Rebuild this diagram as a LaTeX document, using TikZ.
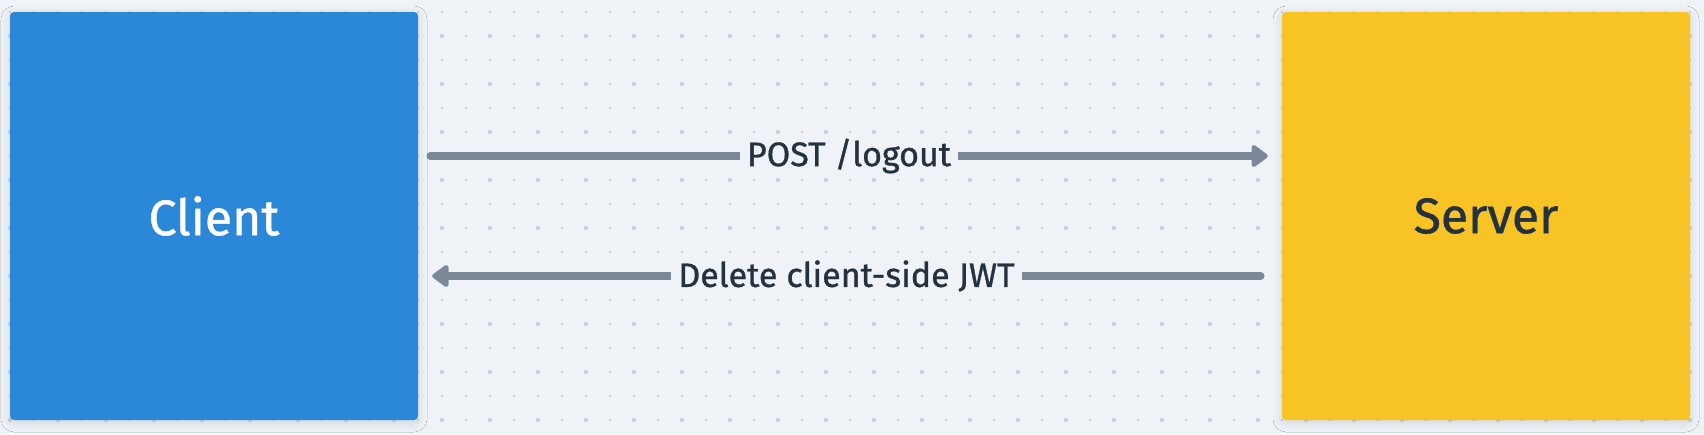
\documentclass[tikz,border=0pt]{standalone}
\usepackage{fontspec}
\setmainfont{Fira Sans}
\newfontfamily\diagfont{Fira Sans}[FakeBold=0.9]
\usetikzlibrary{arrows.meta}
\usetikzlibrary{shadows.blur}

\definecolor{canvas}{HTML}{EFF3F7}
\definecolor{griddot}{HTML}{C9D1DE}
\definecolor{clientblue}{HTML}{2B88D8}
\definecolor{serveryellow}{HTML}{F7C325}
\definecolor{flowgray}{HTML}{7A8898}
\definecolor{inkdark}{HTML}{24323F}

\begin{document}
\begin{tikzpicture}[x=1pt, y=-1pt,
    party/.style={rounded corners=4pt, minimum width=408pt, minimum height=408pt,
      font=\diagfont\fontsize{50}{60}\selectfont,
      blur shadow={shadow xshift=0pt, shadow yshift=-3pt, shadow blur radius=9pt, shadow opacity=12}},
    flow/.style={draw=flowgray, line width=7.5pt, line cap=round,
      -{Triangle[length=18pt, width=25pt, round]}},
    msg/.style={fill=canvas, text=inkdark, inner xsep=7pt, inner ysep=2pt,
      font=\diagfont\fontsize{34}{40}\selectfont}]
  \useasboundingbox (0,0) rectangle (1704,434);
  \fill[canvas] (0,0) rectangle (1704,434);
  % dotted canvas
  \foreach \i in {0,...,70}
    \foreach \j in {0,...,17}
    {
      \pgfmathsetmacro\px{10+24*\i}
      \pgfmathsetmacro\py{12+24*\j}
      \pgfmathsetmacro\dr{(mod(\i,2)==0 && mod(\j,2)==1) ? 2.1 : 1.3}
      \fill[griddot] (\px,\py) circle[radius=\dr pt];
    }

  \node[party, fill=clientblue, text=white] (client) at (214,216) {Client};
  \node[party, fill=serveryellow, text=inkdark] (server) at (1486,216) {Server};

  \draw[flow] ([xshift=12pt, yshift=60pt]client.east)
    -- node[msg] {POST /logout} ([xshift=-14pt, yshift=60pt]server.west);
  \draw[flow] ([xshift=-21pt, yshift=-60pt]server.west)
    -- node[msg] {Delete client-side JWT} ([xshift=14pt, yshift=-60pt]client.east);
\end{tikzpicture}
\end{document}
